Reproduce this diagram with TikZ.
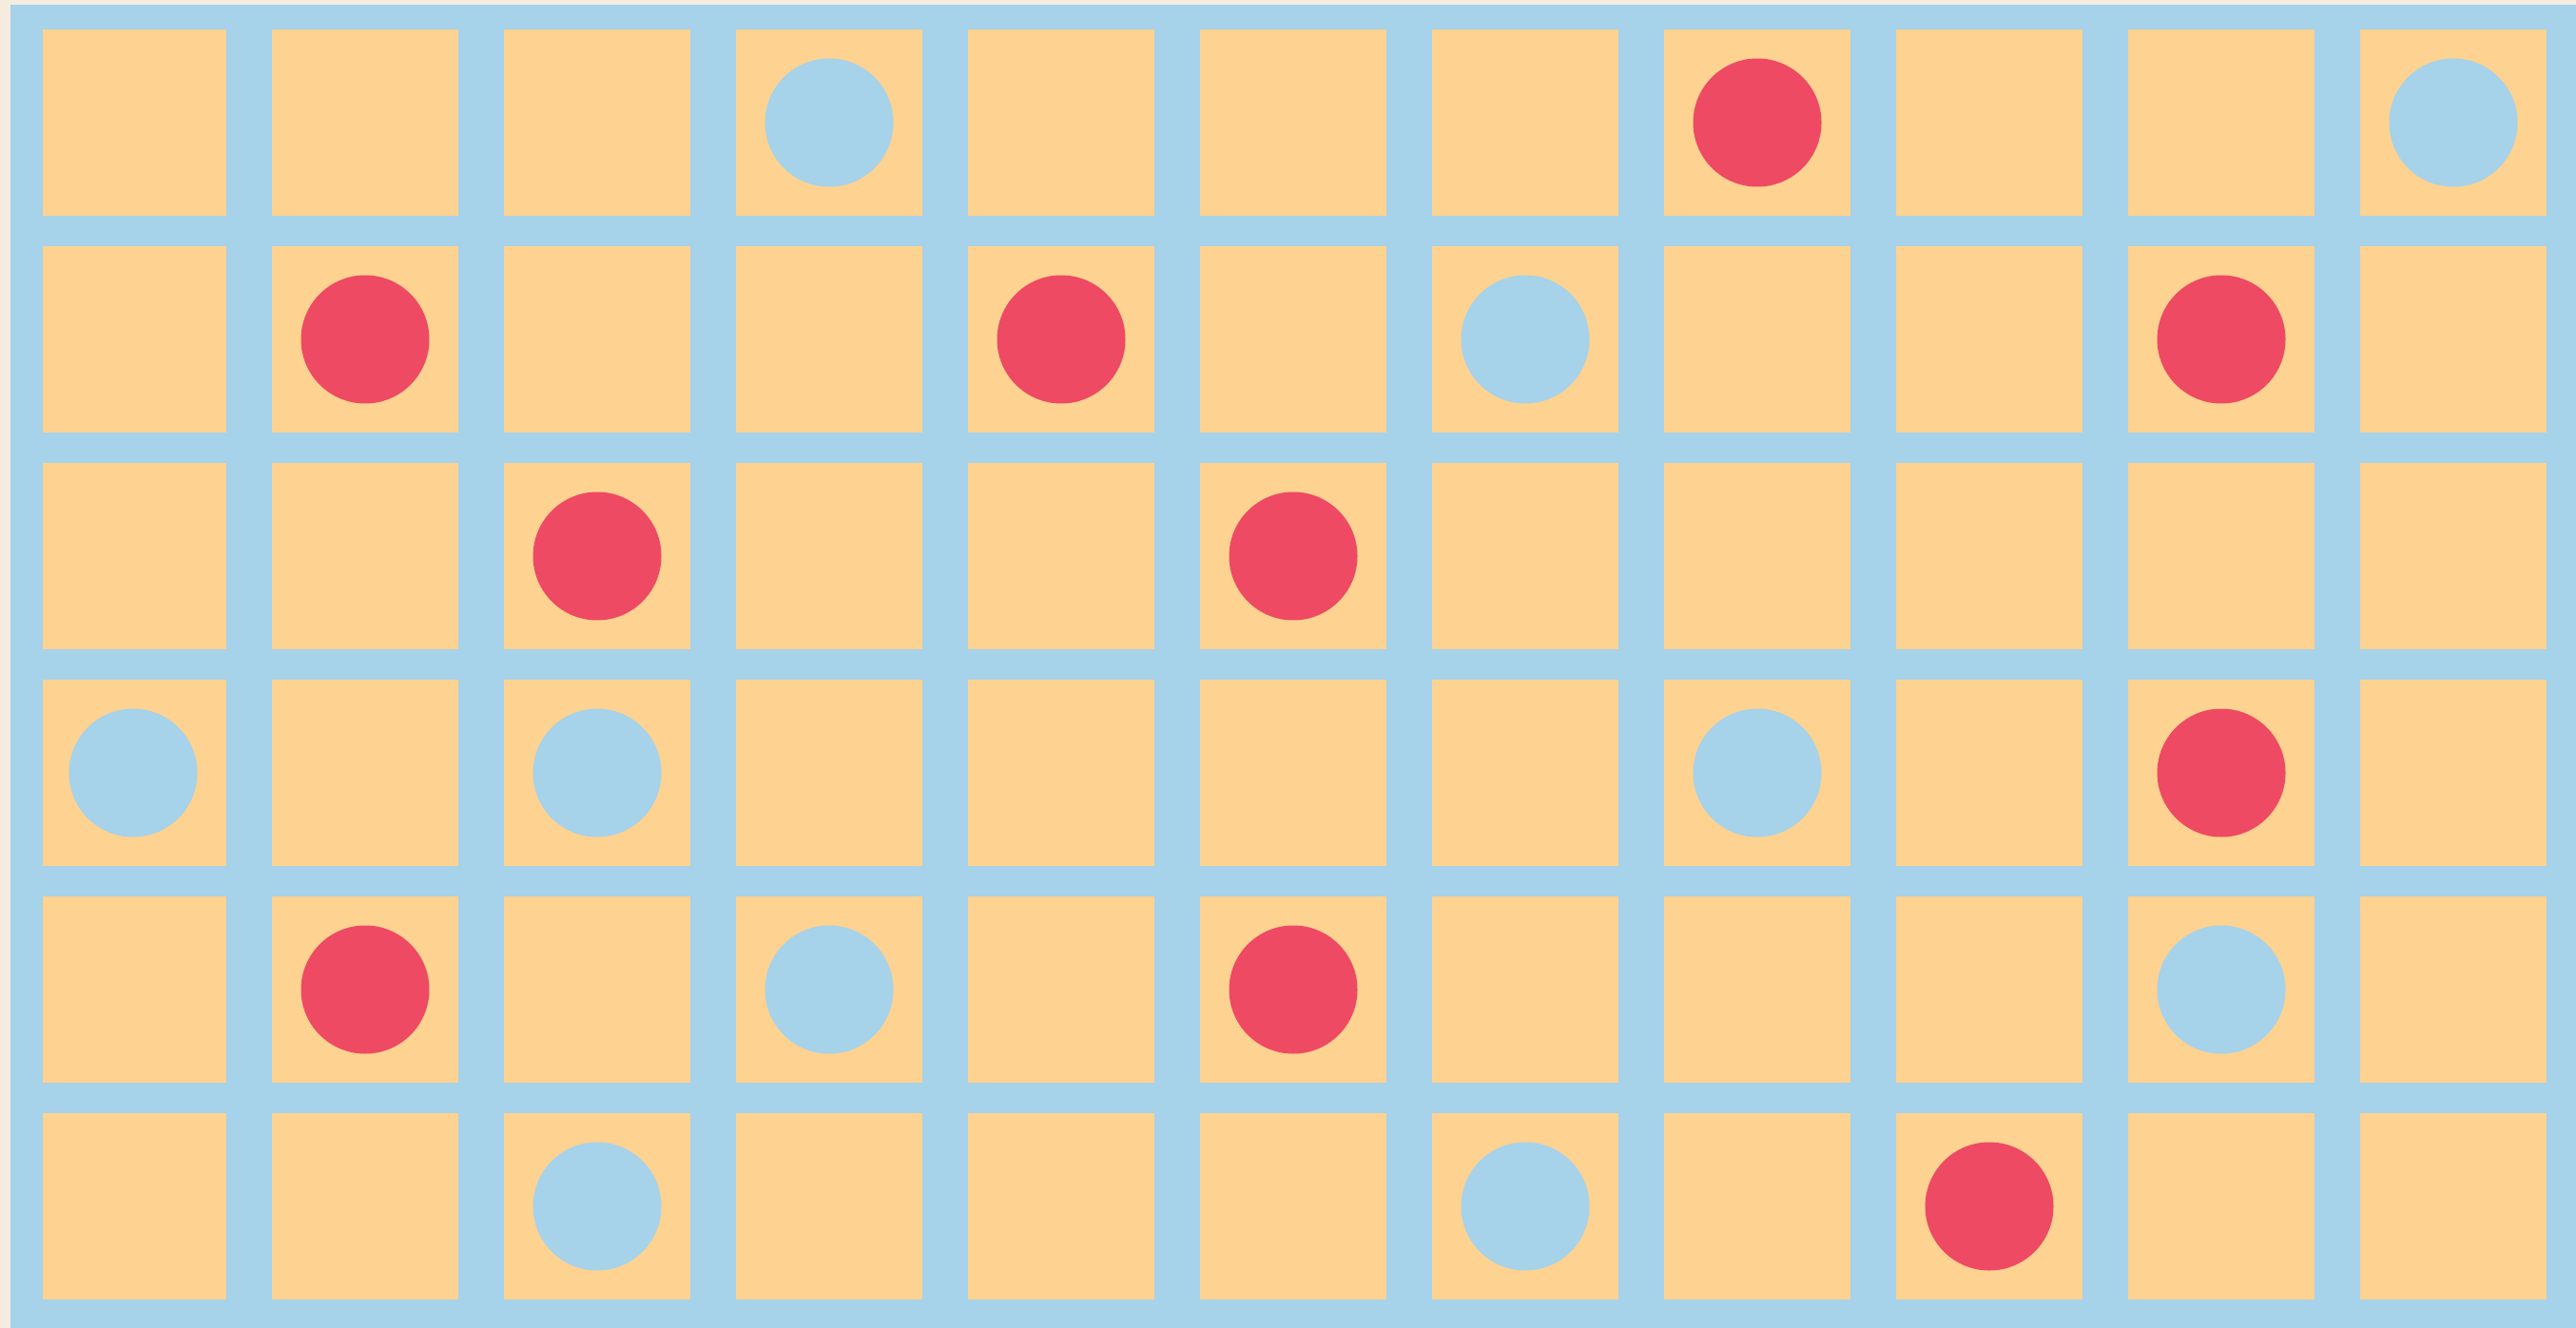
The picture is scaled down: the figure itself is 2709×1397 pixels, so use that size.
\documentclass[tikz,border=0pt]{standalone}
\usepackage{tikz}

\definecolor{boardblue}{HTML}{A6D2EA}
\definecolor{papercream}{HTML}{F5ECDF}
\definecolor{cellorange}{HTML}{FED290}
\definecolor{piecered}{HTML}{EE4A63}

\begin{document}
\begin{tikzpicture}[x=0.01cm, y=-0.01cm,
    cell/.style={fill=cellorange},
    redpiece/.style={fill=piecered},
    bluepiece/.style={fill=boardblue}]
    % Paper and board frame
    \fill[papercream] (0,0) rectangle (2709,1397);
    \fill[boardblue] (11,5) rectangle (2709,1397);

    % Draw the 11 x 6 cells
    \foreach \c in {0,...,10}
        \foreach \r in {0,...,5}
            \fill[cell] ({max(45,42+244*\c)},{31+228*\r}) rectangle ({238+244*\c},{227+228*\r});

    % Red pieces (column/row)
    \foreach \c/\r in {7/0, 1/1, 4/1, 9/1, 2/2, 5/2, 9/3, 1/4, 5/4, 8/5}
        \fill[redpiece] ({140+244*\c},{129+228*\r}) circle (67.5);

    % Blue pieces
    \foreach \c/\r in {3/0, 10/0, 6/1, 0/3, 2/3, 7/3, 3/4, 9/4, 2/5, 6/5}
        \fill[bluepiece] ({140+244*\c},{129+228*\r}) circle (67.5);
\end{tikzpicture}
\end{document}
